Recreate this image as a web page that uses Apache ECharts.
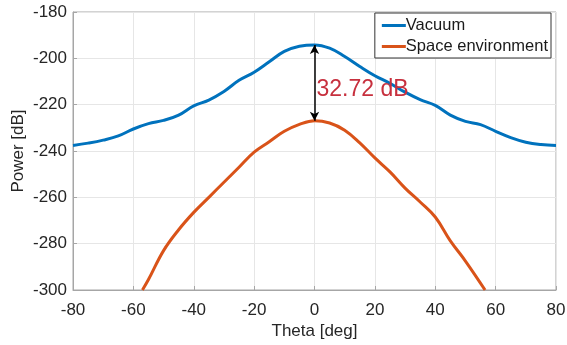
<!DOCTYPE html>
<html>
<head>
<meta charset="utf-8">
<script src="https://cdn.jsdelivr.net/npm/echarts@6/dist/echarts.min.js"></script>
<style>
  html, body { margin: 0; padding: 0; background: #fff; }
  #chart { width: 567px; height: 345px; }
</style>
</head>
<body>
<div id="chart"></div>
<script>
// theta [deg] and power [dB]
var vacuumTheta = [-80, -75, -70, -65, -60, -55, -50, -45, -40, -35, -30, -25, -20, -15, -10, -5, 0,
                   5, 10, 15, 20, 25, 30, 35, 40, 45, 50, 55, 60, 65, 70, 75, 80];
var vacuumPower = [-237.6, -236.6, -235.3, -233.5, -230.5, -228.2, -226.8, -224.5, -220.5, -218, -214.3, -209.5, -206, -201.5, -197, -194.8, -194.2,
                   -195.6, -199.2, -203.5, -207.5, -210.8, -214.6, -217.8, -220.3, -224.5, -227.2, -228.6, -231.5, -234.2, -236.2, -237.2, -237.6];
var spaceTheta = [-57, -55, -50, -45, -40, -35, -30, -25, -20, -15, -10, -5, 0,
                  5, 10, 15, 20, 25, 30, 35, 40, 45, 50, 56.5];
var spacePower = [-300, -295.5, -283, -274, -266.5, -260, -253.5, -247, -240.5, -236, -231.5, -228.5, -226.9,
                  -227.9, -231, -236.5, -243, -249, -256, -262, -268.5, -278.8, -287.5, -300];
var gapTheta = 0;
var gapText = '32.72 dB';
var xTicks = { min: -80, max: 80, step: 20 };
var yTicks = { min: -300, max: -180, step: 20 };

function pairs(xs, ys) {
    return xs.map(function (x, i) { return [x, ys[i]]; });
}

var myChart = echarts.init(document.getElementById('chart'));
var axisText = { color: '#262626', fontSize: 17, fontFamily: 'Liberation Sans' };
var gapTop = vacuumPower[vacuumTheta.indexOf(gapTheta)];
var gapBottom = spacePower[spaceTheta.indexOf(gapTheta)];

var option = {
    backgroundColor: '#fff',
    animation: false,
    grid: {
        left: 73, right: 11, top: 12, bottom: 55,
        outerBoundsMode: 'none',   // keep the plot box where it is
        show: true, borderColor: '#a6a6a6', borderWidth: 1
    },
    legend: {
        orient: 'vertical',
        right: 16, top: 13,
        padding: [4, 3, 3, 7],
        itemGap: 4,
        itemWidth: 24, itemHeight: 3,
        icon: 'rect',
        backgroundColor: '#fff',
        borderColor: '#333', borderWidth: 1, borderRadius: 0,
        textStyle: { color: '#1a1a1a', fontSize: 16.5, fontFamily: 'Liberation Sans', padding: [0, 0, 0, -5] },
        data: ['Vacuum', 'Space environment']
    },
    xAxis: {
        type: 'value',
        min: xTicks.min, max: xTicks.max, interval: xTicks.step,
        name: 'Theta [deg]', nameLocation: 'middle', nameGap: 33,
        nameMoveOverlap: false,
        nameTextStyle: axisText,
        axisLine: { onZero: false, lineStyle: { color: '#a6a6a6' } },
        axisTick: { inside: true, length: 4, lineStyle: { color: '#a6a6a6' } },
        axisLabel: Object.assign({ margin: 12 }, axisText),
        splitLine: { lineStyle: { color: '#e6e6e6' } }
    },
    yAxis: {
        type: 'value',
        min: yTicks.min, max: yTicks.max, interval: yTicks.step,
        name: 'Power [dB]', nameLocation: 'middle', nameGap: 46,
        nameMoveOverlap: false,
        nameTextStyle: axisText,
        axisLine: { show: true, onZero: false, lineStyle: { color: '#a6a6a6' } },
        axisTick: { show: true, inside: true, length: 4, lineStyle: { color: '#a6a6a6' } },
        axisLabel: Object.assign({ margin: 6 }, axisText),
        splitLine: { lineStyle: { color: '#e6e6e6' } }
    },
    series: [
        {
            name: 'Vacuum',
            type: 'line',
            smooth: 0.4,
            showSymbol: false,
            color: '#0072BD',
            lineStyle: { width: 3 },
            data: pairs(vacuumTheta, vacuumPower),
            markLine: {
                silent: true,
                symbol: ['arrow', 'arrow'],
                symbolSize: [7, 9],
                lineStyle: { color: '#000', width: 1.5, type: 'solid' },
                label: { show: false },
                data: [[
                    { coord: [gapTheta, gapTop] },
                    { coord: [gapTheta, gapBottom] }
                ]]
            },
            markPoint: {
                silent: true,
                symbol: 'circle', symbolSize: 0,
                label: {
                    show: true, position: 'right', distance: 2, offset: [0, 7],
                    formatter: gapText,
                    color: '#c7303e', fontSize: 23, fontFamily: 'Liberation Sans'
                },
                data: [{ coord: [gapTheta, (gapTop + gapBottom) / 2] }]
            }
        },
        {
            name: 'Space environment',
            type: 'line',
            smooth: 0.4,
            showSymbol: false,
            color: '#D95319',
            lineStyle: { width: 3 },
            data: pairs(spaceTheta, spacePower)
        }
    ]
};
myChart.setOption(option);
window.addEventListener('resize', function () {
    myChart.resize();
});
</script>
</body>
</html>
